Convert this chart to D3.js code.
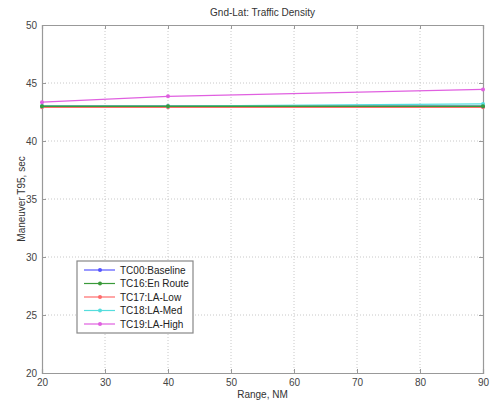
<!DOCTYPE html>
<html><head><meta charset="utf-8">
<script src="https://cdn.jsdelivr.net/npm/d3@7"></script>
<style>body{margin:0;background:#fff}svg{display:block;font-family:"Liberation Sans",Arial,sans-serif}</style>
</head><body><svg id="c" width="490" height="403"></svg>
<script>
const ranges = [20, 40, 90];
const seriesNames = ["TC00:Baseline", "TC16:En Route", "TC17:LA-Low", "TC18:LA-Med", "TC19:LA-High"];
const baseline = [43.0, 43.0, 43.0];
const enRoute = [43.0, 43.0, 43.0];
const laLow = [42.9, 42.9, 42.9];
const laMed = [43.0, 43.0, 43.2];
const laHigh = [43.35, 43.85, 44.45];
const colors = ["#5555ff", "#3a9a3a", "#ff6b6b", "#55dddd", "#e060e0"];
const xTicks = [20, 30, 40, 50, 60, 70, 80, 90];
const yTicks = [20, 25, 30, 35, 40, 45, 50];

const svg = d3.select("#c");
const L = 42, R = 483, T = 25, B = 373;
const x = d3.scaleLinear().domain([20, 90]).range([L, R]);
const y = d3.scaleLinear().domain([20, 50]).range([B, T]);

// grid
svg.append("g").selectAll("line").data(xTicks.slice(1, -1)).join("line")
  .attr("x1", d => x(d)).attr("x2", d => x(d)).attr("y1", T).attr("y2", B)
  .attr("stroke", "#c8c8c8").attr("stroke-dasharray", "1,2").attr("stroke-width", 1);
svg.append("g").selectAll("line").data(yTicks.slice(1, -1)).join("line")
  .attr("y1", d => y(d)).attr("y2", d => y(d)).attr("x1", L).attr("x2", R)
  .attr("stroke", "#c8c8c8").attr("stroke-dasharray", "1,2").attr("stroke-width", 1);

// axes
const xa = svg.append("g").attr("transform", `translate(0,${B})`)
  .call(d3.axisBottom(x).tickValues(xTicks).tickSize(-4).tickPadding(6));
const xa2 = svg.append("g").attr("transform", `translate(0,${T})`)
  .call(d3.axisTop(x).tickValues(xTicks).tickSize(-4).tickFormat(""));
const ya = svg.append("g").attr("transform", `translate(${L},0)`)
  .call(d3.axisLeft(y).tickValues(yTicks).tickSize(-4).tickPadding(5));
const ya2 = svg.append("g").attr("transform", `translate(${R},0)`)
  .call(d3.axisRight(y).tickValues(yTicks).tickSize(-4).tickFormat(""));
[xa, xa2, ya, ya2].forEach(g => {
  g.selectAll(".domain").attr("stroke", "#999").attr("stroke-width", 1.2);
  g.selectAll(".tick line").attr("stroke", "#999");
  g.selectAll("text").attr("fill", "#444").style("font-size", "10px").style("font-family", "Liberation Sans, Arial, sans-serif");
});

// series
const allData = [baseline, enRoute, laLow, laMed, laHigh];
const order = [2, 0, 3, 1, 4];
const line = d3.line().x((d, i) => x(ranges[i])).y(d => y(d));
order.forEach(k => {
  svg.append("path").datum(allData[k]).attr("d", line)
    .attr("fill", "none").attr("stroke", colors[k]).attr("stroke-width", k === 1 ? 1.6 : 1.2);
  svg.append("g").selectAll("circle").data(allData[k]).join("circle")
    .attr("cx", (d, i) => x(ranges[i])).attr("cy", d => y(d)).attr("r", 2)
    .attr("fill", colors[k]);
});

// title & labels
svg.append("text").attr("x", (L + R) / 2).attr("y", 16).attr("text-anchor", "middle")
  .style("font-size", "10px").attr("fill", "#333").text("Gnd-Lat: Traffic Density");
svg.append("text").attr("x", (L + R) / 2).attr("y", 398).attr("text-anchor", "middle")
  .style("font-size", "10px").attr("fill", "#333").text("Range, NM");
svg.append("text").attr("transform", `translate(25,${(T + B) / 2}) rotate(-90)`).attr("text-anchor", "middle")
  .style("font-size", "10px").attr("fill", "#333").text("Maneuver T95, sec");

// legend
const lg = svg.append("g");
lg.append("rect").attr("x", 77).attr("y", 261).attr("width", 116).attr("height", 72)
  .attr("fill", "#fff").attr("stroke", "#888").attr("stroke-width", 1.2);
seriesNames.forEach((n, i) => {
  const yy = 270 + i * 13.5;
  lg.append("line").attr("x1", 84).attr("x2", 115).attr("y1", yy).attr("y2", yy)
    .attr("stroke", colors[i]).attr("stroke-width", 1.2);
  lg.append("circle").attr("cx", 100).attr("cy", yy).attr("r", 2).attr("fill", colors[i]);
  lg.append("text").attr("x", 120).attr("y", yy + 3.5).style("font-size", "10px")
    .attr("fill", "#222").text(n);
});
</script></body></html>
